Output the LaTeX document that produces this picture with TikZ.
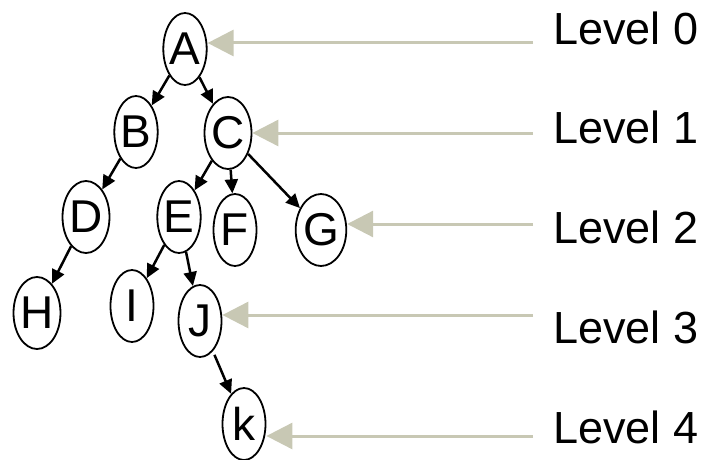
\documentclass[tikz,border=0pt]{standalone}
\usepackage{fontspec}
\setmainfont{Liberation Sans}
\usetikzlibrary{shapes.geometric,arrows.meta}
\definecolor{guide}{RGB}{200,200,180}
\begin{document}
\begin{tikzpicture}[x=1pt,y=-1pt,
  treenode/.style={ellipse,draw=black,line width=1.8pt,inner sep=0pt,
    minimum width=43pt,minimum height=72pt,font=\fontsize{46}{54}\selectfont},
  edge/.style={draw=black,line width=2.5pt,-{Triangle[length=14pt,width=13pt]}},
  lvlarrow/.style={draw=guide,line width=3pt,-{Triangle[length=26pt,width=26pt]}},
  lvllabel/.style={anchor=base west,inner sep=0pt,font=\fontsize{45}{54}\selectfont}]
\useasboundingbox (0,0) rectangle (710,460);

% tree nodes
\node[treenode] (A) at (185,49) {A};
\node[treenode] (B) at (136,132) {B};
\node[treenode] (C) at (228,133) {C};
\node[treenode] (D) at (86,217) {D};
\node[treenode] (E) at (179,217) {E};
\node[treenode] (F) at (235,230) {F};
\node[treenode] (G) at (321,230) {G};
\node[treenode] (H) at (37,313) {H};
\node[treenode] (I) at (132,306) {I};
\node[treenode] (J) at (200,321) {J};
\node[treenode] (K) at (244,424) {k};

% parent-child edges
\draw[edge] (A) -- (B);
\draw[edge] (A) -- (C);
\draw[edge] (B) -- (D);
\draw[edge] (C) -- (E);
\draw[edge] (C) -- (F);
\draw[edge] (C) -- (G);
\draw[edge] (D) -- (H);
\draw[edge] (E) -- (I);
\draw[edge] (E) -- (J);
\draw[edge, shorten <=4pt] (J) -- (K);

% level markers
\coordinate (t0) at (533,43);
\coordinate (t1) at (533,133);
\coordinate (t2) at (533,224);
\coordinate (t3) at (533,315);
\coordinate (t4) at (533,436);
\draw[lvlarrow] (t0) -- (A.east |- t0);
\draw[lvlarrow] (t1) -- (C.east |- t1);
\draw[lvlarrow] (t2) -- (G.east |- t2);
\draw[lvlarrow] (t3) -- (J.east |- t3);
\draw[lvlarrow] (t4) -- (K.east |- t4);

\node[lvllabel] (L0) at (553,45) {Level 0};
\node[lvllabel] (L1) at (553,143) {Level 1};
\node[lvllabel] (L2) at (553,243) {Level 2};
\node[lvllabel] (L3) at (553,343) {Level 3};
\node[lvllabel] (L4) at (553,443) {Level 4};
\end{tikzpicture}
\end{document}
